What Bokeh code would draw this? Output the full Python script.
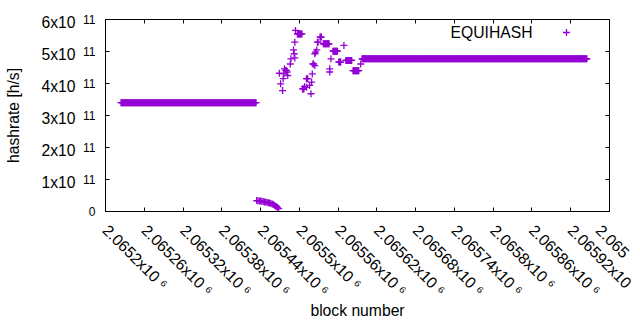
import math
from bokeh.plotting import figure
from bokeh.models import Range1d, FixedTicker, LinearAxis, Label, Legend, LegendItem, ColumnDataSource
from bokeh.embed import file_html
from bokeh.resources import INLINE

# ---------------- data ----------------
BLOCK0 = 2065200          # block numbers are given as offsets from this block
SCALE = 1e11              # hashrate values are given in units of 1e11 h/s

# runs of consecutive blocks that share one hashrate value
run_first = [24, 297, 305, 311, 332, 337, 352, 361, 372, 383, 397]
run_last = [233, 304, 307, 313, 334, 346, 359, 364, 381, 392, 745]
run_value = [3.40, 5.55, 3.83, 4.15, 5.45, 5.24, 5.01, 4.67, 4.72, 4.40, 4.77]

# the short low, falling stretch
low_offset = [234, 236, 238, 240, 242, 244, 246, 248, 250, 252, 254, 256, 258, 260, 262, 264, 266, 268]
low_value = [0.34, 0.335, 0.33, 0.325, 0.32, 0.31, 0.30, 0.295, 0.285, 0.275, 0.265, 0.25, 0.235,
             0.215, 0.19, 0.16, 0.13, 0.09]

# single scattered blocks
pt_offset = [269, 271, 274, 275, 276, 277, 279, 280, 281, 282, 286, 287, 291, 292, 293, 293, 294,
             308, 311, 316, 318, 319, 320, 321, 322, 324, 324, 325, 327, 328, 329, 347, 347, 349, 369, 395]
pt_value = [4.32, 3.99, 3.78, 4.15, 4.30, 4.46, 4.41, 4.41, 4.36, 4.25, 4.61, 4.77, 5.05, 4.93, 4.80, 5.29, 5.66,
            3.90, 3.88, 3.94, 3.68, 4.04, 4.30, 4.61, 4.61, 4.56, 4.93, 4.98, 5.05, 5.29, 5.29, 4.46, 4.36, 4.77, 5.19, 4.61]

series_name = "EQUIHASH"

x_tick_values = [2065200, 2065260, 2065320, 2065380, 2065440, 2065500, 2065560,
                 2065620, 2065680, 2065740, 2065800, 2065860, 2065920, 2065980]
# the last label is cut by the picture's edge in the original: only "2.065" is visible
x_tick_labels = ["2.0652x10 \u2076", "2.06526x10 \u2076", "2.06532x10 \u2076", "2.06538x10 \u2076",
                 "2.06544x10 \u2076", "2.0655x10 \u2076", "2.06556x10 \u2076", "2.06562x10 \u2076",
                 "2.06568x10 \u2076", "2.06574x10 \u2076", "2.0658x10 \u2076", "2.06586x10 \u2076",
                 "2.06592x10 \u2076", "2.065"]
y_tick_values = [0, 1e11, 2e11, 3e11, 4e11, 5e11, 6e11]
y_tick_mantissa = ["0", "1x10", "2x10", "3x10", "4x10", "5x10", "6x10"]
y_tick_exponent = "11"

# ---------------- assemble points ----------------
blocks, rates = [], []
for f, l, v in zip(run_first, run_last, run_value):
    for b in range(f, l + 1):
        blocks.append(BLOCK0 + b)
        rates.append(v * SCALE)
for b, v in zip(low_offset, low_value):
    blocks.append(BLOCK0 + b)
    rates.append(v * SCALE)
for b, v in zip(pt_offset, pt_value):
    blocks.append(BLOCK0 + b)
    rates.append(v * SCALE)
src = ColumnDataSource(dict(block=blocks, rate=rates))

# ---------------- figure ----------------
FONT = "Liberation Sans"
FS = "15.7px"
FS_SUP = "12px"
COLOR = "#9400d3"
Y_SPAN = y_tick_values[-1] - y_tick_values[0]
PX_PER_UNIT = 192 / Y_SPAN                  # frame height / y span
MANT_DROP = 3 / PX_PER_UNIT                 # mantissas sit a little below the exponents

p = figure(width=632, height=322, output_backend="svg", toolbar_location=None,
           x_range=Range1d(x_tick_values[0], x_tick_values[-1]),
           y_range=Range1d(y_tick_values[0], y_tick_values[-1]),
           min_border_left=105, min_border_right=23, min_border_top=19, min_border_bottom=111)
p.xgrid.visible = False
p.ygrid.visible = False
p.outline_line_color = "black"
p.outline_line_width = 1
p.background_fill_color = "white"
p.border_fill_color = "white"
# same scale as the y range, shifted so that the mantissa labels sit slightly lower
p.extra_y_ranges = {"mant": Range1d(y_tick_values[0] + MANT_DROP, y_tick_values[-1] + MANT_DROP)}

xt = FixedTicker(ticks=x_tick_values)
yt = FixedTicker(ticks=y_tick_values)
ax_bottom = p.below[0]
ax_left = p.left[0]
ax_top = LinearAxis()
ax_right = LinearAxis()
ax_sup = LinearAxis()
ax_mant = LinearAxis(y_range_name="mant")
p.add_layout(ax_top, "above")
p.add_layout(ax_right, "right")
p.add_layout(ax_sup, "left")
p.add_layout(ax_mant, "left")

for ax in (ax_bottom, ax_top):
    ax.ticker = xt
for ax in (ax_left, ax_right, ax_sup):
    ax.ticker = yt
ax_mant.ticker = FixedTicker(ticks=y_tick_values[1:])

for ax in (ax_bottom, ax_top, ax_left, ax_right, ax_sup, ax_mant):
    ax.major_tick_in = 4
    ax.major_tick_out = 0
    ax.minor_tick_line_color = None
    ax.axis_line_color = "black"
    ax.major_tick_line_color = "black"
    ax.major_label_text_font = FONT
    ax.major_label_text_font_size = FS
    ax.major_label_text_color = "black"
    ax.axis_label_text_font = FONT
    ax.axis_label_text_font_size = FS
    ax.axis_label_text_font_style = "normal"
    ax.axis_label_text_color = "black"
for ax in (ax_sup, ax_mant):
    ax.axis_line_color = None
    ax.major_tick_line_color = None
    ax.major_tick_in = 0

for ax, vals in ((ax_top, x_tick_values), (ax_right, y_tick_values), (ax_left, y_tick_values)):
    ax.major_label_overrides = {v: "" for v in vals}
    ax.major_label_standoff = 0

# exponents ("0" has none: it is shown by itself in this column)
ax_sup.major_label_overrides = {v: (m if m == "0" else y_tick_exponent)
                                for v, m in zip(y_tick_values, y_tick_mantissa)}
ax_sup.major_label_text_font_size = FS_SUP
ax_sup.major_label_standoff = 10
# mantissas
ax_mant.major_label_overrides = dict(zip(y_tick_values[1:], y_tick_mantissa[1:]))
ax_mant.major_label_standoff = 5
ax_mant.axis_label = "hashrate [h/s]"
ax_mant.axis_label_standoff = 16

ax_bottom.major_label_overrides = dict(zip(x_tick_values, x_tick_labels))
ax_bottom.major_label_orientation = -math.pi / 4
ax_bottom.major_label_standoff = 16
ax_bottom.axis_label = "block number"
ax_bottom.axis_label_standoff = -6

r = p.scatter("block", "rate", source=src, marker="cross", size=7,
              line_color=COLOR, line_width=1.3)

legend = Legend(items=[LegendItem(label=" ", renderers=[r])], location=(452, 170),
                padding=0, margin=0, spacing=0, glyph_width=18, glyph_height=18,
                label_standoff=0, label_width=0, label_height=0, label_text_font_size="1px",
                border_line_color=None, background_fill_alpha=0)
p.add_layout(legend)

p.add_layout(Label(x=x_tick_values[-1], y=y_tick_values[-1], text=series_name, x_offset=-77, y_offset=-13,
                   text_font=FONT, text_font_size=FS, text_align="right", text_baseline="middle",
                   text_color="black"))

open("out.html", "w").write(file_html(p, INLINE))
